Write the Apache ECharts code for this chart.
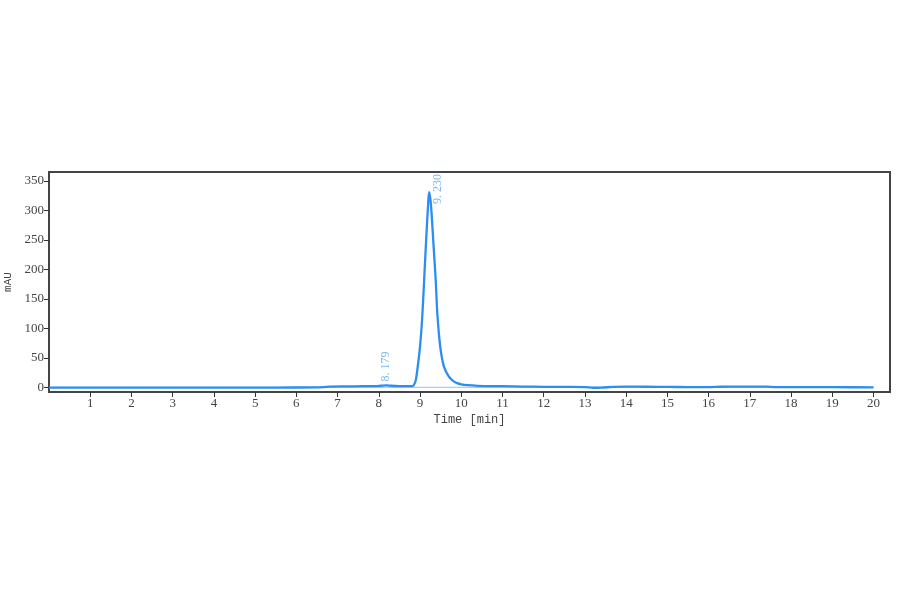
<!DOCTYPE html>
<html lang="en">
<head>
	<meta charset="UTF-8">
	<title>Chromatogram</title>
	<style>
		*{ margin: 0; padding: 0; }
		body{ background: #fff; }
		.box{ width: 900px; height: 594px; }
	</style>
	<script src="https://cdn.jsdelivr.net/npm/echarts@6/dist/echarts.min.js"></script>
</head>
<body>
	<div class="box"></div>
	<script>
		// retention time (min) and absorbance (mAU)
		var times = [0, 1, 2, 3, 4, 5, 6, 6.5, 6.8, 7.2, 7.6, 7.9, 8.05, 8.18, 8.3, 8.5, 8.7, 8.82,
			8.86, 8.9, 8.95, 9.0, 9.05, 9.1, 9.15, 9.2, 9.22, 9.25, 9.28, 9.33, 9.38, 9.42, 9.49, 9.58,
			9.7, 9.8, 9.9, 10.0, 10.15, 10.4, 11, 11.5, 12, 12.5, 13, 13.2, 13.4, 13.7, 14, 14.5, 15,
			15.5, 16, 16.3, 16.7, 17, 17.4, 17.6, 18, 19, 20];
		var mAU = [-0.5, -0.5, -0.5, -0.5, -0.5, -0.5, -0.4, -0.2, 1.0, 1.5, 1.8, 2.0, 2.6, 3.2, 2.6, 2.0, 1.8, 2.0,
			5, 13, 38, 69, 115, 182, 252, 315, 331, 320, 295, 238, 182, 125, 69, 35,
			18, 11, 7, 5, 3.5, 2.5, 1.8, 1.2, 0.8, 0.6, 0.4, -0.8, -0.5, 0.6, 1.0, 0.9, 0.6,
			0.4, 0.3, 0.9, 1.1, 1.2, 1.0, 0.4, 0.2, 0.1, 0];
		var peakTimes = [8.179, 9.230];
		var peakHeights = [3.2, 331];
		var peakNames = ['8. 179', '9. 230'];
		var baseTimes = [0, 20];
		var baseValues = [0, 0];
		var xTicks = [1, 2, 3, 4, 5, 6, 7, 8, 9, 10, 11, 12, 13, 14, 15, 16, 17, 18, 19, 20];
		var yTicks = [0, 50, 100, 150, 200, 250, 300, 350];

		var chart = echarts.init(document.querySelector('.box'));

		var trace = times.map((t, i) => [t, mAU[i]]);
		var baseline = baseTimes.map((t, i) => [t, baseValues[i]]);
		var peaks = peakTimes.map((t, i) => ({
			value: [t, peakHeights[i]],
			label: { formatter: peakNames[i], offset: i === 1 ? [-12, 8] : [4, 0] }
		}));

		var tickFont = { fontFamily: 'Liberation Serif', fontSize: 13, color: '#444' };

		var option = {
			animation: false,
			grid: {
				left: 49, right: 10, top: 172, bottom: 202,
				outerBoundsMode: 'none',
				containLabel: false,
				show: true, borderColor: '#444', borderWidth: 2
			},
			xAxis: {
				type: 'value',
				min: 0, max: 20.4,
				name: 'Time [min]',
				nameLocation: 'middle',
				nameGap: 22,
				nameTextStyle: { fontFamily: 'Liberation Mono', fontSize: 12, color: '#444' },
				axisLine: { show: true, onZero: false, lineStyle: { color: '#444', width: 2 } },
				axisTick: { show: true, length: 5, customValues: xTicks, lineStyle: { color: '#333' } },
				axisLabel: Object.assign({ customValues: xTicks, margin: 5 }, tickFont),
				splitLine: { show: false }
			},
			yAxis: {
				type: 'value',
				min: -8, max: 365,
				name: 'mAU',
				nameLocation: 'middle',
				nameGap: 29,
				nameTextStyle: { fontFamily: 'Liberation Mono', fontSize: 11, color: '#444' },
				axisLine: { show: true, onZero: false, lineStyle: { color: '#444', width: 2 } },
				axisTick: { show: true, length: 5, customValues: yTicks, lineStyle: { color: '#333' } },
				axisLabel: Object.assign({ customValues: yTicks, margin: 5 }, tickFont),
				splitLine: { show: false }
			},
			series: [
				{
					type: 'line',
					data: baseline,
					symbol: 'none',
					lineStyle: { color: '#8cc4f7', width: 1 },
					silent: true
				},
				{
					type: 'line',
					data: trace,
					symbol: 'none',
					smooth: 0.3,
					lineStyle: { color: '#2b8ef0', width: 2.3 }
				},
				{
					type: 'scatter',
					data: peaks,
					symbolSize: 0,
					label: {
						show: true,
						position: 'top',
						rotate: 90,
						align: 'left',
						verticalAlign: 'middle',
						distance: 0,
						color: '#5aa9f0',
						fontFamily: 'Liberation Serif',
						fontSize: 12
					}
				}
			]
		};
		chart.setOption(option);
	</script>
</body>
</html>
